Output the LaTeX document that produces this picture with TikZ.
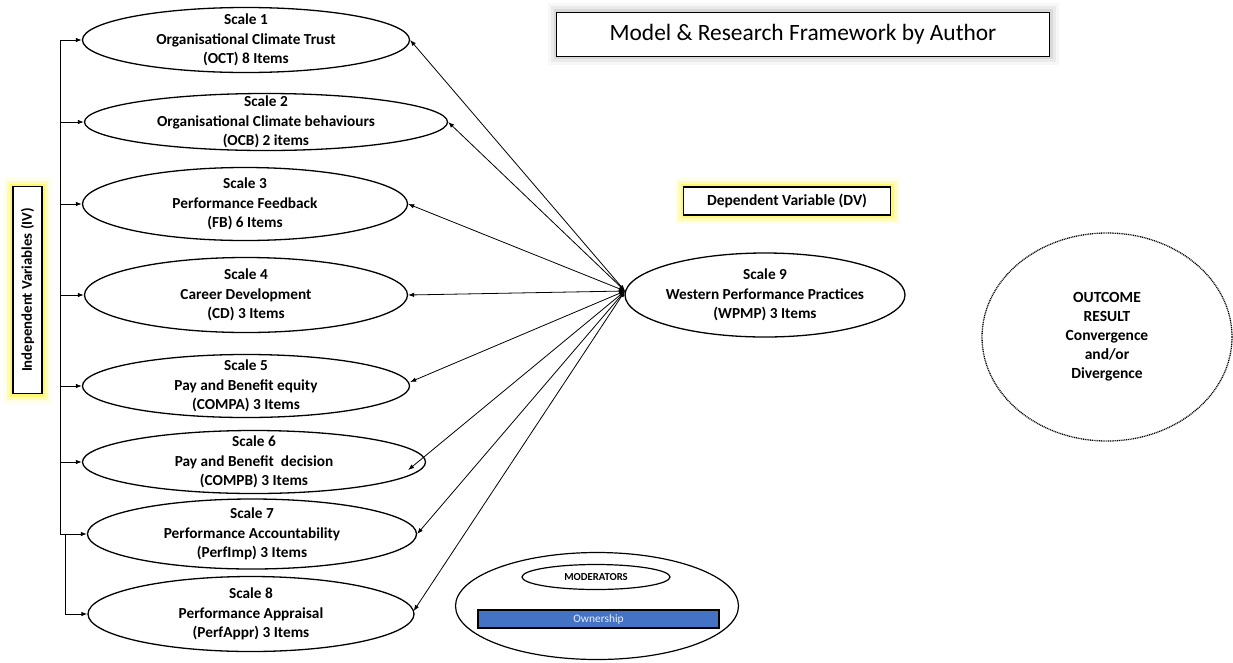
\documentclass[tikz,border=0pt]{standalone}
\usepackage{fontspec}
\setmainfont{Carlito}
\usetikzlibrary{shapes.geometric,arrows.meta,calc}
\definecolor{barblue}{RGB}{68,114,196}

\begin{document}
\begin{tikzpicture}[x=1pt,y=-1pt,
  scalebox/.style={draw, ellipse, line width=1.3pt, inner sep=0pt},
  lbl/.style={font=\bfseries\fontsize{15.3}{19.5}\selectfont, align=center, inner sep=0pt},
  arr/.style={-{Latex[length=6pt,width=4.5pt]}, line width=0.9pt},
  dbl/.style={{Latex[length=6pt,width=4.5pt]}-{Latex[length=6pt,width=4.5pt]}, line width=0.8pt},
  glowY/.style={preaction={draw=yellow!60, line width=18pt, draw opacity=0.15},
                preaction={draw=yellow!70, line width=12pt, draw opacity=0.3},
                preaction={draw=yellow!80, line width=6pt, draw opacity=0.5}},
  glowG/.style={preaction={draw=black, line width=18pt, draw opacity=0.03},
                preaction={draw=black, line width=12pt, draw opacity=0.05},
                preaction={draw=black, line width=6pt, draw opacity=0.07}},
  tagbox/.style={draw, fill=white, line width=1.2pt, inner sep=0pt},
]
\useasboundingbox (0,0) rectangle (1233,662);

% title
\node[tagbox, glowG, line width=1pt, minimum width=493pt, minimum height=44pt,
      font=\fontsize{23.4}{26}\selectfont] (title) at (803,34) {Model \& Research Framework by Author};

% independent variable scales
\node[scalebox, minimum width=327pt, minimum height=65pt,
      label={[lbl]center:{Scale 1\\Organisational Climate Trust\\(OCT) 8 Items}}] (s1) at (246,40) {};
\node[scalebox, minimum width=363pt, minimum height=57pt,
      label={[lbl]center:{Scale 2\\Organisational Climate behaviours\\(OCB) 2 items}}] (s2) at (266,122) {};
\node[scalebox, minimum width=325pt, minimum height=73pt,
      label={[lbl]center:{Scale 3\\Performance Feedback\\(FB) 6 Items}}] (s3) at (245,204) {};
\node[scalebox, minimum width=323pt, minimum height=75pt,
      label={[lbl]center:{Scale 4\\Career Development\\(CD) 3 Items}}] (s4) at (246,295) {};
\node[scalebox, minimum width=327pt, minimum height=63pt,
      label={[lbl]center:{Scale 5\\Pay and Benefit equity\\(COMPA) 3 Items}}] (s5) at (246,386) {};
\node[scalebox, minimum width=343pt, minimum height=63pt,
      label={[lbl]center:{Scale 6\\Pay and Benefit\ \ decision\\(COMPB) 3 Items}}] (s6) at (254,462) {};
\node[scalebox, minimum width=329pt, minimum height=70pt,
      label={[lbl]center:{Scale 7\\Performance Accountability\\(PerfImp) 3 Items}}] (s7) at (252,534) {};
\node[scalebox, minimum width=326pt, minimum height=75pt,
      label={[lbl]center:{Scale 8\\Performance Appraisal\\(PerfAppr) 3 Items}}] (s8) at (251,614) {};

% dependent variable
\node[scalebox, minimum width=280pt, minimum height=84pt,
      label={[lbl]center:{Scale 9\\Western Performance Practices\\(WPMP) 3 Items}}] (s9) at (765,295) {};
\node[tagbox, glowY, minimum width=207pt, minimum height=28pt,
      font=\bfseries\fontsize{15.5}{18}\selectfont] (dv) at (787,201) {Dependent Variable (DV)};

% independent variables tag
\node[tagbox, glowY, rotate=90, minimum width=207pt, minimum height=29pt,
      font=\bfseries\fontsize{14.8}{17}\selectfont] (iv) at (27.5,290) {Independent Variables (IV)};

% outcome
\node[draw, ellipse, line width=1.3pt, dash pattern=on 1pt off 0.8pt, inner sep=0pt,
      minimum width=250pt, minimum height=208pt,
      label={[lbl, font=\bfseries\fontsize{15.5}{19}\selectfont]center:{OUTCOME\\RESULT\\Convergence\\and/or\\Divergence}}] (out) at (1107,337) {};

% moderators
\node[draw, ellipse, line width=1.2pt, inner sep=0pt, minimum width=283pt, minimum height=107pt] (mod) at (597,606) {};
\node[draw, ellipse, line width=1.2pt, inner sep=0pt, minimum width=148pt, minimum height=25pt,
      font=\bfseries\fontsize{10.7}{12}\selectfont] (modt) at (596,577) {MODERATORS};
\node[draw, fill=barblue, line width=1.1pt, inner sep=0pt, minimum width=241pt, minimum height=18pt,
      text=white!90!barblue, font=\fontsize{11.4}{13}\selectfont] (own) at (598.5,619) {Ownership};

% left bracket feeding the scales
\coordinate (spine) at (60,40);
\coordinate (spineb) at (65,534);
\draw[line width=0.9pt] (spine) -- (spine |- s7.west);
\foreach \s in {s1,s2,s3,s4,s5,s6,s7}
  \draw[arr] (spine |- \s.west) -- (\s.west);
\draw[arr] (spineb) -- (spineb |- s8.west) -- (s8.west);

% links between the scales and scale 9
\coordinate (hub) at (625,291);
\draw[dbl] (hub) -- (s1.east);
\draw[dbl] (hub) -- (s2.east);
\draw[dbl] (hub) -- (s3.east);
\draw[dbl] (hub) -- (s4.east);
\draw[dbl] (hub) -- ($(s5.east)+(0,-4)$);
\draw[dbl] (hub) -- ($(s6.east)+(-18,8)$);
\draw[dbl] (hub) -- (s7.east);
\draw[dbl] (hub) -- ($(s8.east)+(-1,-3)$);
\end{tikzpicture}
\end{document}
